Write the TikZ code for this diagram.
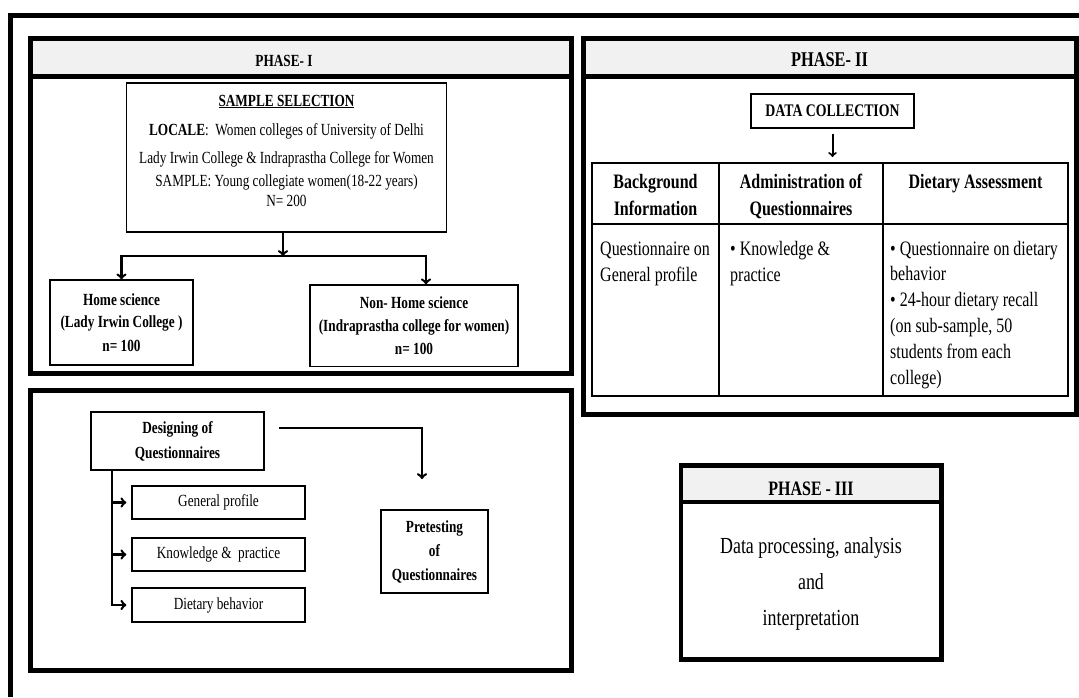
\documentclass[tikz,border=0pt]{standalone}
\usepackage{fontspec}
\setmainfont{Liberation Serif}[FakeStretch=0.78]
\usetikzlibrary{positioning}
\definecolor{headgray}{RGB}{241,241,241}
\tikzset{
  phaseline/.style={line width=5pt},
  box/.style={draw, line width=1.3pt, inner sep=0pt, align=center},
  link/.style={->, line width=2.5pt},
  txt/.style={font=\fontsize{17}{20}\selectfont, inner sep=0pt, anchor=base},
  btxt/.style={txt, font=\bfseries\fontsize{17}{20}\selectfont},
  ttxt/.style={font=\fontsize{20.5}{25.8}\selectfont, inner sep=0pt, anchor=base},
  tbtxt/.style={ttxt, font=\bfseries\fontsize{20.5}{26.6}\selectfont},
}
\begin{document}
\begin{tikzpicture}[x=1pt,y=-1pt]
\useasboundingbox (0,0) rectangle (1079,697);
% outer frame
\draw[phaseline] (10.5,697) -- (10.5,15.5) -- (1079,15.5);

% phase I
\fill[headgray] (30.5,38.5) rectangle (571,76.5);
\draw[phaseline] (30.5,38.5) rectangle (571,373.5);
\draw[phaseline] (30.5,76.5) -- (571,76.5);
\node[btxt] (ph1) at (284,66.5) {PHASE- I};

\node[box, minimum width=320.5pt, minimum height=149pt] (sel) at (286.5,157.5) {};
% multi-line texts sit on their last line
\node[txt, align=center] (seltxt) at (286.5,206.5) {\textbf{\underline{SAMPLE SELECTION}}\\[9pt]
  \textbf{LOCALE}:~ Women colleges of University of Delhi\\[8pt]
  Lady Irwin College \& Indraprastha College for Women\\[3pt]
  SAMPLE: Young collegiate women(18-22 years)\\[0.5pt]
  N= 200};

\node[box, font=\bfseries\fontsize{17}{20}\selectfont, minimum width=143pt, minimum height=85pt] (home) at (121.5,322.5)
  {Home science\\[2pt](Lady Irwin College )\\[4.5pt]n= 100};
\node[box, font=\bfseries\fontsize{17}{20}\selectfont, minimum width=208pt, minimum height=81.7pt] (nonhome) at (414,325.8)
  {Non- Home science\\[3pt](Indraprastha college for women)\\[3pt]n= 100};

\coordinate (split) at (283,256);
\draw[link] (split |- sel.south) -- (split);
\draw[link] (split) -| (home.north);
\draw[link] (split) -| ([xshift=12pt]nonhome.north);

% questionnaires
\draw[phaseline] (30.5,390.5) rectangle (571,670.5);
\node[box, font=\bfseries\fontsize{17}{20}\selectfont, minimum width=173pt, minimum height=58pt] (design) at (177.5,441)
  {Designing of\\[5pt]Questionnaires};
\node[box, font=\fontsize{17}{20}\selectfont, minimum width=173pt, minimum height=33pt] (gen) at (218.5,502.5) {General profile};
\node[box, font=\fontsize{17}{20}\selectfont, minimum width=173pt, minimum height=33pt] (know) at (218.5,554.5) {Knowledge \&~ practice};
\node[box, font=\fontsize{17}{20}\selectfont, minimum width=173pt, minimum height=34pt] (diet) at (218.5,605) {Dietary behavior};
\node[box, font=\bfseries\fontsize{17}{20}\selectfont, minimum width=107pt, minimum height=83pt] (pretest) at (434.5,551.5)
  {Pretesting\\[4pt]of\\[4pt]Questionnaires};

\coordinate (spine) at (112,470);
\draw[link, shorten >=5pt] (spine) |- (diet.west);
\draw[link, shorten >=5pt] (spine |- gen.west) -- (gen.west);
\draw[link, shorten >=5pt] (spine |- know.west) -- (know.west);
\coordinate (dq1) at (279,428);
\coordinate (dq2) at (422,479);
\draw[link] (dq1) -| (dq2);

% phase II
\fill[headgray] (583,38.5) rectangle (1076,76.5);
\draw[phaseline] (583,38.5) rectangle (1076,414.5);
\draw[phaseline] (583,76.5) -- (1076,76.5);
\node[btxt, font=\bfseries\fontsize{21}{24}\selectfont] (ph2) at (829.5,66.5) {PHASE- II};

\node[box, font=\bfseries\fontsize{17.7}{20}\selectfont, minimum width=163pt, minimum height=34pt] (datacoll) at (832.5,111) {DATA COLLECTION};
\coordinate (tabtop) at (832.5,163);
\draw[link, line width=2pt, shorten <=5pt, shorten >=6pt] (datacoll.south) -- (tabtop);

\draw[line width=1.3pt] (592,163) rectangle (1068,396);
\draw[line width=1.3pt] (592,224) -- (1068,224);
\draw[line width=1.3pt] (719,163) -- (719,396);
\draw[line width=1.3pt] (883,163) -- (883,396);

\node[tbtxt, align=center] (bghead) at (655.5,215) {Background\\Information};
\node[tbtxt, align=center] (admhead) at (801,215) {Administration of\\Questionnaires};
\node[tbtxt] (dahead) at (975.5,188) {Dietary Assessment};
\node[ttxt, anchor=base west, align=left] (bgbody) at (600,281.7) {Questionnaire on\\General profile};
\node[ttxt, anchor=base west, align=left] (admbody) at (730,281.7) {• Knowledge \&\\practice};
\node[ttxt, anchor=base west, align=left] (dabody) at (890,384) {• Questionnaire on dietary\\behavior\\• 24-hour dietary recall\\(on sub-sample, 50\\students from each\\college)};

% phase III
\fill[headgray] (681,465.5) rectangle (941.5,502);
\draw[phaseline, line width=4.5pt] (681,465.5) rectangle (941.5,659.5);
\draw[phaseline, line width=4.5pt] (681,502) -- (941.5,502);
\node[btxt, font=\bfseries\fontsize{20.5}{24}\selectfont] (ph3) at (811,495) {PHASE - III};
\node[txt, font=\fontsize{23}{36}\selectfont, align=center] (ph3txt) at (811,625) {Data processing, analysis\\and\\interpretation};
\end{tikzpicture}
\end{document}
